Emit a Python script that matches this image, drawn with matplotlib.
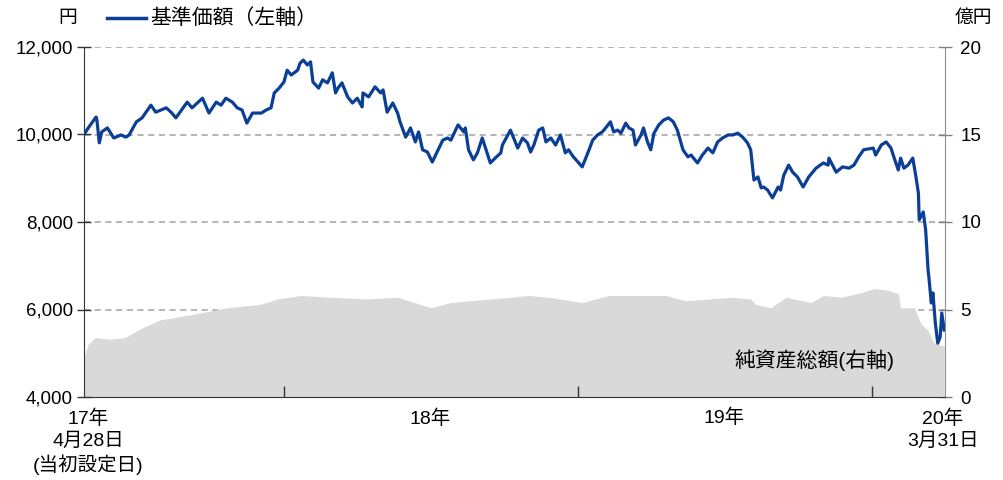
import matplotlib; matplotlib.use("Agg")
import matplotlib.pyplot as plt
import matplotlib.transforms as mtransforms
import pandas as pd

# ---- data (day offsets from launch 2017-04-28) ---------------------------------
LAUNCH = "2017-04-28"
END = "2020-03-31"
nav_days = [0, 6, 15, 16, 19, 22, 29, 37, 46, 52, 56, 65, 72, 83, 89, 102, 108, 114,
            128, 134, 147, 155, 164, 170, 176, 184, 190, 196, 202, 209, 220, 226, 232,
            236, 242, 248, 252, 257, 265, 268, 272, 277, 281, 284, 291, 296, 302, 308,
            312, 315, 320, 327, 333, 339, 345, 346, 353, 361, 368, 371, 376, 383, 389,
            392, 399, 405, 411, 415, 420, 426, 432, 438, 445, 451, 455, 464, 471, 473,
            477, 483, 488, 494, 500, 504, 510, 517, 519, 529, 533, 538, 544, 550, 554,
            558, 564, 569, 573, 579, 585, 591, 597, 601, 607, 618, 625, 631, 637, 643,
            647, 653, 657, 662, 666, 672, 676, 681, 684, 691, 694, 699, 703, 707, 713,
            719, 725, 731, 736, 743, 749, 753, 761, 767, 774, 780, 786, 792, 799, 805,
            811, 817, 823, 827, 831, 836, 840, 843, 848, 854, 861, 864, 868, 874, 879,
            885, 892, 899, 908, 917, 923, 924, 933, 941, 949, 955, 961, 967, 979, 982,
            989, 995, 1001, 1005, 1010, 1013, 1017, 1022, 1028, 1032, 1035, 1036, 1041,
            1044, 1047, 1048, 1051, 1053, 1056, 1059, 1062, 1064, 1067]
nav = [10000, 10170, 10400, 10330, 9810, 10060, 10150, 9920, 9990, 9940, 9990, 10290,
       10380, 10670, 10510, 10610, 10510, 10380, 10740, 10610, 10830, 10490, 10740,
       10670, 10830, 10740, 10610, 10560, 10260, 10490, 10490, 10560, 10610, 10950,
       11060, 11200, 11470, 11360, 11470, 11630, 11700, 11590, 11660, 11200, 11060,
       11250, 11180, 11410, 10950, 11060, 11180, 10860, 10720, 10830, 10630, 10950,
       10860, 11090, 10950, 11020, 10510, 10720, 10490, 10290, 9940, 10150, 9830, 10060,
       9650, 9600, 9370, 9600, 9870, 9920, 9870, 10220, 10060, 10150, 9650, 9420, 9580,
       9920, 9580, 9350, 9460, 9580, 9760, 10100, 9920, 9690, 9920, 9810, 9600, 9760,
       10100, 10150, 9830, 9920, 9760, 9990, 9580, 9650, 9490, 9260, 9580, 9870, 9990,
       10060, 10150, 10290, 10060, 10100, 10030, 10260, 10150, 10100, 9760, 9990, 10150,
       9830, 9650, 10030, 10220, 10330, 10380, 10290, 10100, 9650, 9490, 9530, 9350,
       9530, 9690, 9580, 9830, 9920, 9990, 9990, 10030, 9940, 9810, 9650, 8960, 9030,
       8780, 8800, 8730, 8550, 8800, 8730, 9070, 9300, 9140, 9030, 8800, 9030, 9230,
       9350, 9300, 9460, 9140, 9260, 9230, 9300, 9490, 9650, 9690, 9530, 9760, 9830,
       9690, 9460, 9190, 9460, 9230, 9300, 9460, 9030, 8660, 8050, 8230, 7820, 6900,
       6740, 6150, 6380, 5690, 5230, 5370, 5920, 5530]
aum_days = [0, 5, 14, 32, 51, 70, 94, 119, 144, 178, 219, 240, 269, 306, 351, 389, 430,
            455, 479, 529, 551, 576, 618, 651, 722, 746, 805, 827, 833, 852, 871, 902,
            917, 939, 967, 980, 997, 1010, 1013, 1030, 1038, 1047, 1054, 1067]
aum = [2.3, 3.0, 3.4, 3.3, 3.4, 3.9, 4.4, 4.6, 4.8, 5.1, 5.3, 5.6, 5.8, 5.7, 5.6, 5.7,
       5.1, 5.4, 5.5, 5.7, 5.8, 5.7, 5.4, 5.8, 5.8, 5.5, 5.7, 5.6, 5.3, 5.1, 5.7, 5.4,
       5.8, 5.7, 6.0, 6.2, 6.1, 5.9, 5.1, 5.1, 4.2, 3.8, 3.1, 2.9]
left_ticks = [4000, 6000, 8000, 10000, 12000]
right_ticks = [0, 5, 10, 15, 20]
year_ticks = ["2018-01-01", "2019-01-01", "2020-01-01"]

JP = ["Liberation Sans", "Noto Sans CJK JP", "DejaVu Sans"]
plt.rcParams["font.family"] = JP
BLUE = "#0B3F95"

t0 = pd.Timestamp(LAUNCH)
nav_x = t0 + pd.to_timedelta(nav_days, unit="D")
aum_x = t0 + pd.to_timedelta(aum_days, unit="D")

fig = plt.figure(figsize=(10.04, 4.8), dpi=100)
ax = fig.add_axes([84/1004, 83/480, 861/1004, 350/480])
ax2 = ax.twinx()

# net assets (right axis) behind, with the dashed grid under it
ax2.fill_between(aum_x, aum, 0, color="#D9D9D9", lw=0, zorder=2)
ax2.set_ylim(0, 20)
ax2.set_yticks(right_ticks)
ax2.yaxis.grid(True, ls=(0, (4, 3)), color="#A0A0A0", lw=1.1, zorder=1)
ax2.set_axisbelow(True)
ax2.tick_params(axis="y", direction="inout", length=10, width=1, color="#808080",
                labelsize=13.5, pad=6)

# NAV line (left axis) on top
ax.set_zorder(ax2.get_zorder() + 1)
ax.patch.set_visible(False)
ax.plot(nav_x, nav, color=BLUE, lw=2.3, zorder=3, solid_joinstyle="round")
ax.set_ylim(4000, 12000)
ax.set_yticks(left_ticks)
ax.set_yticklabels([f"{v:,}" for v in left_ticks])
ax.tick_params(axis="y", direction="inout", length=10, width=1, color="#333333",
               labelsize=13.5, pad=3)
ax.set_xlim(t0, pd.Timestamp(END))
ax.set_xticks(pd.to_datetime(year_ticks))
ax.set_xticklabels([])
ax.tick_params(axis="x", direction="in", length=8, width=1, color="#333333")

for a in (ax, ax2):
    a.spines["top"].set_visible(False)
ax.spines["left"].set_color("#333333")
ax.spines["bottom"].set_color("#333333")
ax.spines["right"].set_visible(False)
ax2.spines["left"].set_visible(False)
ax2.spines["bottom"].set_visible(False)
ax2.spines["right"].set_color("#909090")

# x labels
tr = mtransforms.blended_transform_factory(ax.transData, ax.transAxes)
ax.text(pd.Timestamp("2017-05-03"), -0.037, "17年\n4月28日\n(当初設定日)", transform=tr,
        ha="center", va="top", fontsize=14, linespacing=1.3, clip_on=False)
ax.text(pd.Timestamp("2018-07-01"), -0.037, "18年", transform=tr, ha="center", va="top",
        fontsize=14, clip_on=False)
ax.text(pd.Timestamp("2019-07-01"), -0.032, "19年", transform=tr, ha="center", va="top",
        fontsize=14, clip_on=False)
ax.text(pd.Timestamp("2020-03-28"), -0.037, "20年\n3月31日", transform=tr, ha="center",
        va="top", fontsize=14, linespacing=1.3, clip_on=False)

# units, legend, area label
fig.text(68/1004, 1 - 18/480, "円", ha="center", va="center", fontsize=13.5)
fig.text(973/1004, 1 - 18/480, "億円", ha="center", va="center", fontsize=13.5)
fig.add_artist(plt.Line2D([107/1004, 146/1004], [1 - 18/480, 1 - 18/480],
                          color=BLUE, lw=2.5, transform=fig.transFigure))
fig.text(150/1004, 1 - 18/480, "基準価額（左軸）", ha="left", va="center", fontsize=15)
ax.text(0.848, 0.105, "純資産総額(右軸)", transform=ax.transAxes, ha="center",
        va="center", fontsize=15)

fig.savefig("out.png", dpi=100)
